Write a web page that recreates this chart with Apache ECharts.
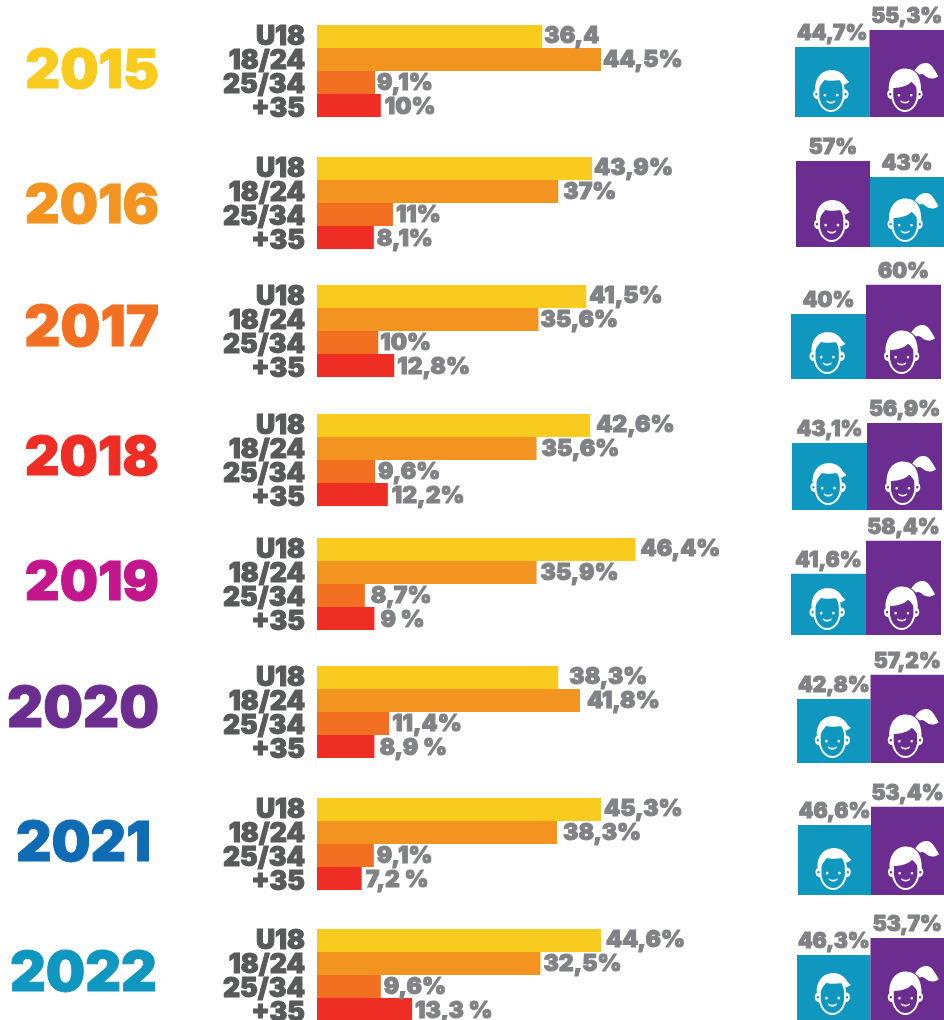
<!DOCTYPE html>
<html>
<head>
<meta charset="utf-8">
<title>Public by year</title>
<script src="https://cdn.jsdelivr.net/npm/echarts@6/dist/echarts.min.js"></script>
<style>
  html, body { margin: 0; padding: 0; background: #fff; }
  #chart { width: 944px; height: 1020px; }
</style>
</head>
<body>
<div id="chart"></div>
<script>
const years = ['2015', '2016', '2017', '2018', '2019', '2020', '2021', '2022']
const ageGroups = ['U18', '18/24', '25/34', '+35']

// bar lengths as drawn: the infographic's bars don't follow its printed numbers exactly
const u18Values = [35.3, 43.1, 42.2, 42.8, 49.9, 37.8, 44.5, 44.5]
const age1824Values = [44.5, 37.8, 34.7, 34.4, 34.4, 41.2, 37.6, 35.0]
const age2534Values = [9.1, 11.9, 9.6, 9.1, 7.5, 11.3, 8.9, 10.0]
const over35Values = [10.0, 8.9, 12.1, 11.1, 9.0, 9.0, 7.0, 14.9]

// printed numbers
const u18Labels = ['36,4', '43,9%', '41,5%', '42,6%', '46,4%', '38,3%', '45,3%', '44,6%']
const age1824Labels = ['44,5%', '37%', '35,6%', '35,6%', '35,9%', '41,8%', '38,3%', '32,5%']
const age2534Labels = ['9,1%', '11%', '10%', '9,6%', '8,7%', '11,4%', '9,1%', '9,6%']
const over35Labels = ['10%', '8,1%', '12,8%', '12,2%', '9 %', '8,9 %', '7,2 %', '13,3 %']

const boyValues = [44.6, 54.8, 41.4, 42.7, 38.9, 40.8, 44.6, 41.4]
const girlValues = [55.4, 44.6, 59.9, 55.4, 59.9, 56.1, 56.1, 52.2]
const boyLabels = ['44,7%', '57%', '40%', '43,1%', '41,6%', '42,8%', '46,6%', '46,3%']
const girlLabels = ['55,3%', '43%', '60%', '56,9%', '58,4%', '57,2%', '53,4%', '53,7%']

// layout per year
const yearColors = ['#f9cb1e', '#f39420', '#f36f21', '#ee2d24', '#c4168c', '#6c2d91', '#0f6cb4', '#1097c0']
const yearRight = [160, 160, 160, 160, 160, 160, 152, 158]
const yearFontSize = [54, 54, 56, 54, 54, 56, 55, 55.5]
const yearCenterY = [72, 207, 329, 459, 584, 710, 844, 974]
const ageTop = [25, 157, 285, 414, 538, 666, 798, 929]
const ageColors = ['#f9cb1e', '#f39420', '#f36f21', '#ee2d24']
const labelRowShift = [0, 1, 1, 2]
const u18Gaps = [2, 2, 3, 6, 5, 11, 3, 5]
const age1824Gaps = [2, 5, 2, 5, 4, 7, 6, 3]
const age2534Gaps = [2, 3, 2, 3, 6, 3, 3, 3]
const over35Gaps = [4, 3, 3, 4, 6, 5, 4, 3]
const panelLeft = [795, 796, 791, 792, 791, 797, 798, 797]
const panelRight = [944, 944, 941, 942, 941, 944, 944, 944]
const panelBottom = [117, 247, 379, 510, 635, 763, 895, 1020]
const BLUE = '#1097c0'
const PURPLE = '#6c2d91'
const FONT = 'Inter, Roboto, "Liberation Sans", sans-serif'

const boyIcon = 'path://M12 58C12 30 30 10 53 10C76 10 94 30 94 58C103 58 106 66 106 72C106 80 101 86 93 87C88 108 72 125 53 125C34 125 18 108 13 87C5 86 0 80 0 72C0 66 3 58 12 58Z' +
  'M53 16C33 16 18 34 18 60L18 80C22 104 36 119 53 119C70 119 84 104 88 80L88 60C88 34 73 16 53 16Z' +
  'M9 68.5A3.5 3.5 0 0 0 9 75.5A3.5 3.5 0 0 0 9 68.5Z' +
  'M97 68.5A3.5 3.5 0 0 0 97 75.5A3.5 3.5 0 0 0 97 68.5Z' +
  'M6 58C4 30 20 2 52 0C75 -1 92 12 98 26L108 36L94 44C90 38 86 32 80 30C60 34 42 32 34 30C28 38 20 46 18 56L14 58Z' +
  'M35 71A4 4 0 0 1 35 79A4 4 0 0 1 35 71Z' +
  'M72 71A4 4 0 0 1 72 79A4 4 0 0 1 72 71Z' +
  'M41 90C46 96 60 96 65 90L67 93C60 102 46 102 39 93Z'

const girlIcon = 'path://M12 81C12 53 30 33 53 33C76 33 94 53 94 81C103 81 106 89 106 95C106 103 101 109 93 110C88 131 72 148 53 148C34 148 18 131 13 110C5 109 0 103 0 95C0 89 3 81 12 81Z' +
  'M53 39C33 39 18 57 18 83L18 103C22 127 36 142 53 142C70 142 84 127 88 103L88 83C88 57 73 39 53 39Z' +
  'M9 91.5A3.5 3.5 0 0 0 9 98.5A3.5 3.5 0 0 0 9 91.5Z' +
  'M97 91.5A3.5 3.5 0 0 0 97 98.5A3.5 3.5 0 0 0 97 91.5Z' +
  'M5 84C2 48 22 18 53 18C72 18 88 26 96 48C100 60 102 72 101 84L92 84C88 74 80 64 72 58C62 70 40 76 20 76C16 78 14 81 13 84Z' +
  'M82 24C90 10 104 0 118 2C134 4 144 26 153 41C142 50 126 50 116 42C110 36 104 32 96 36Z' +
  'M35 94A4 4 0 0 1 35 102A4 4 0 0 1 35 94Z' +
  'M72 94A4 4 0 0 1 72 102A4 4 0 0 1 72 94Z' +
  'M41 113C46 119 60 119 65 113L67 116C60 125 46 125 39 116Z'

const grid = []
const xAxis = []
const yAxis = []
const series = []
const title = []

const labelStyle = {
  color: '#808285',
  fontFamily: FONT,
  fontWeight: 900,
  textBorderColor: '#808285',
  textBorderWidth: 1
}

years.forEach((year, i) => {
  title.push({
    text: year,
    right: 944 - yearRight[i],
    top: yearCenterY[i] - 34,
    padding: 0,
    textStyle: {
      color: yearColors[i],
      fontFamily: FONT,
      fontWeight: 900,
      fontSize: yearFontSize[i],
      lineHeight: 68,
      textBorderColor: yearColors[i],
      textBorderWidth: 1
    }
  })

  // age bars
  const ageIndex = grid.length
  grid.push({ left: 317, top: ageTop[i], width: 600, height: 92, outerBoundsMode: 'none' })
  xAxis.push({ gridIndex: ageIndex, type: 'value', min: 0, max: 94, show: false })
  yAxis.push({ gridIndex: ageIndex, type: 'category', inverse: true, data: ageGroups, show: false })
  const ageValues = [u18Values[i], age1824Values[i], age2534Values[i], over35Values[i]]
  const ageLabels = [u18Labels[i], age1824Labels[i], age2534Labels[i], over35Labels[i]]
  const ageGaps = [u18Gaps[i], age1824Gaps[i], age2534Gaps[i], over35Gaps[i]]
  series.push({
    type: 'bar',
    xAxisIndex: ageIndex,
    yAxisIndex: ageIndex,
    barCategoryGap: 0,
    silent: true,
    data: ageValues.map((v, j) => ({
      value: v,
      itemStyle: { color: ageColors[j] },
      label: { formatter: ageLabels[j], distance: ageGaps[j], offset: [0, labelRowShift[j]] }
    })),
    label: { show: true, position: 'right', fontSize: 23, ...labelStyle }
  })

  // age names sit a little looser than the bars, so they get their own axis
  const nameIndex = grid.length
  grid.push({ left: 317, top: ageTop[i], width: 100, height: 96, outerBoundsMode: 'none' })
  xAxis.push({ gridIndex: nameIndex, type: 'value', show: false })
  yAxis.push({
    gridIndex: nameIndex,
    type: 'category',
    inverse: true,
    data: ageGroups,
    axisLine: { show: false },
    axisTick: { show: false },
    axisLabel: {
      interval: 0,
      margin: 12,
      color: '#58595b',
      fontFamily: FONT,
      fontWeight: 900,
      fontSize: 26.5,
      textBorderColor: '#58595b',
      textBorderWidth: 1
    }
  })

  // boys / girls columns
  const genderIndex = grid.length
  grid.push({
    left: panelLeft[i],
    top: panelBottom[i] - 110,
    width: panelRight[i] - panelLeft[i],
    height: 110,
    outerBoundsMode: 'none'
  })
  xAxis.push({ gridIndex: genderIndex, type: 'category', data: ['boys', 'girls'], show: false })
  yAxis.push({ gridIndex: genderIndex, type: 'value', min: 0, max: 70, show: false })
  const swapped = boyValues[i] > girlValues[i]
  const genderLabels = [boyLabels[i], girlLabels[i]]
  series.push({
    type: 'bar',
    xAxisIndex: genderIndex,
    yAxisIndex: genderIndex,
    barWidth: '100%',
    barGap: '-100%',
    silent: true,
    data: [boyValues[i], girlValues[i]].map((v, j) => ({
      value: v,
      itemStyle: { color: (j === 0) !== swapped ? BLUE : PURPLE },
      label: { formatter: genderLabels[j] }
    })),
    label: { show: true, position: 'top', distance: 3, fontSize: 21, ...labelStyle }
  })
  series.push({
    type: 'pictorialBar',
    xAxisIndex: genderIndex,
    yAxisIndex: genderIndex,
    barWidth: '100%',
    barGap: '-100%',
    silent: true,
    z: 5,
    symbolPosition: 'start',
    symbolKeepAspect: true,
    itemStyle: { color: '#fff' },
    data: [
      { value: boyValues[i], symbol: boyIcon, symbolSize: [36, 42], symbolOffset: [-1, -5] },
      { value: girlValues[i], symbol: girlIcon, symbolSize: [51, 49], symbolOffset: [6, -5] }
    ]
  })
})

const chart = echarts.init(document.getElementById('chart'))
chart.setOption({
  animation: false,
  backgroundColor: '#fff',
  title,
  grid,
  xAxis,
  yAxis,
  series
})
</script>
</body>
</html>
